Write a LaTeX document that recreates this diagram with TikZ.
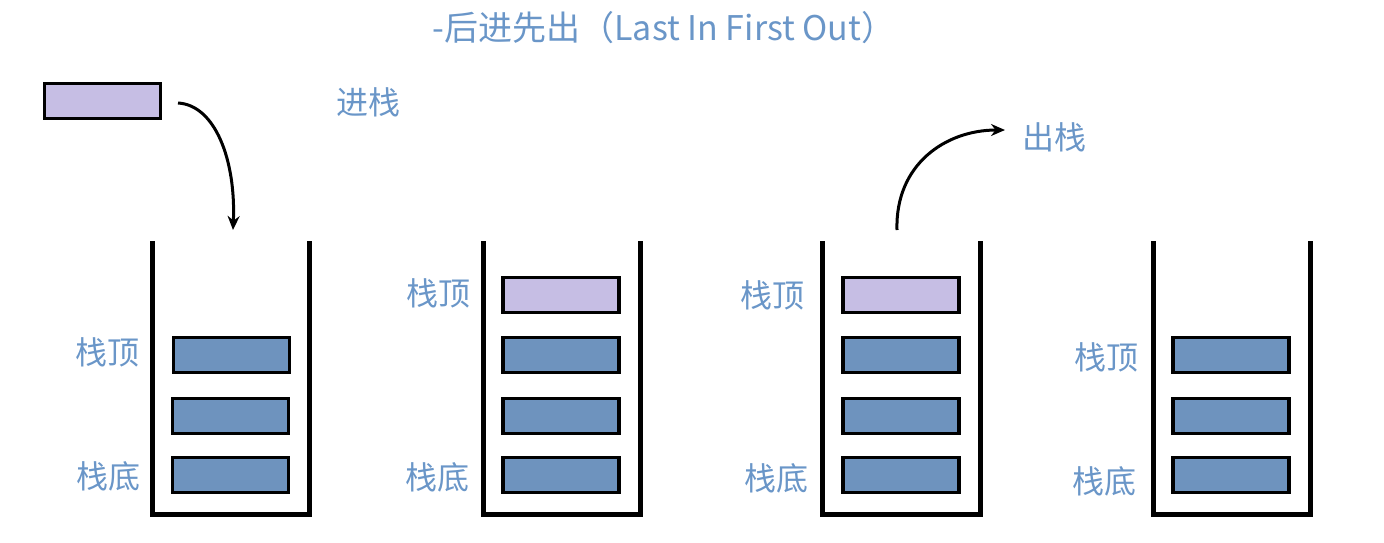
\documentclass[tikz,border=0pt]{standalone}
\usepackage{fontspec}
\setmainfont{Noto Sans CJK SC}
\usetikzlibrary{arrows.meta}

\definecolor{stackblue}{RGB}{110,147,190}
\definecolor{pushpurple}{RGB}{198,190,228}
\definecolor{labelblue}{RGB}{106,150,200}

\tikzset{
  elem/.style={draw, line width=1.6pt, fill=stackblue, minimum width=58pt, minimum height=17.5pt, inner sep=0pt},
  newelem/.style={elem, fill=pushpurple},
  lbl/.style={text=labelblue, font=\fontsize{16}{18}\selectfont, inner sep=0pt},
  wall/.style={line width=2.5pt, line join=miter},
  move/.style={line width=1.5pt, -{Stealth[length=7pt, width=6pt]}}
}

\begin{document}
\begin{tikzpicture}[x=0.5pt, y=-0.5pt]
  \useasboundingbox (0,0) rectangle (1384,542);

  \node[lbl, font=\fontsize{17}{19}\selectfont] (title) at (664,28) {-后进先出（Last In First Out）};

  % element waiting to be pushed
  \node[newelem] (pushed) at (102.5,101) {};
  \coordinate (pushfrom) at (178,103);
  \coordinate (pushto)   at (233,230);
  \node[lbl] (pushlbl) at (368,102) {进栈};

  % stack 1
  \draw[wall] (152,241)--(152,514)--(309,514)--(309,241);
  \node[elem] (s1c) at (231.5,355) {};
  \node[elem] (s1b) at (230.5,416) {};
  \node[elem] (s1a) at (230.5,475) {};
  \node[lbl] (s1top) at (107,352) {栈顶};
  \node[lbl] (s1bot) at (108,476) {栈底};

  % stack 2
  \draw[wall] (483,241)--(483,514)--(640,514)--(640,241);
  \node[newelem] (s2d) at (561,295) {};
  \node[elem] (s2c) at (561,355) {};
  \node[elem] (s2b) at (561,416) {};
  \node[elem] (s2a) at (561,475) {};
  \node[lbl] (s2top) at (438,293) {栈顶};
  \node[lbl] (s2bot) at (437,477) {栈底};

  % stack 3
  \draw[wall] (822,241)--(822,514)--(980,514)--(980,241);
  \node[newelem] (s3d) at (901,295) {};
  \node[elem] (s3c) at (901,355) {};
  \node[elem] (s3b) at (901,416) {};
  \node[elem] (s3a) at (901,475) {};
  \node[lbl] (s3top) at (772,295) {栈顶};
  \node[lbl] (s3bot) at (776,478) {栈底};
  \coordinate (popfrom) at (897,230);
  \coordinate (popto)   at (1005,130);
  \node[lbl] (poplbl) at (1054,137) {出栈};

  % stack 4
  \draw[wall] (1153,241)--(1153,514)--(1310,514)--(1310,241);
  \node[elem] (s4c) at (1231,355) {};
  \node[elem] (s4b) at (1231,416) {};
  \node[elem] (s4a) at (1231,475) {};
  \node[lbl] (s4top) at (1106,357) {栈顶};
  \node[lbl] (s4bot) at (1104,481) {栈底};

  \draw[move] (pushfrom) .. controls (215,105) and (236,160) .. (pushto);
  \draw[move] (popfrom) .. controls (895,165) and (945,130) .. (popto);
\end{tikzpicture}
\end{document}
